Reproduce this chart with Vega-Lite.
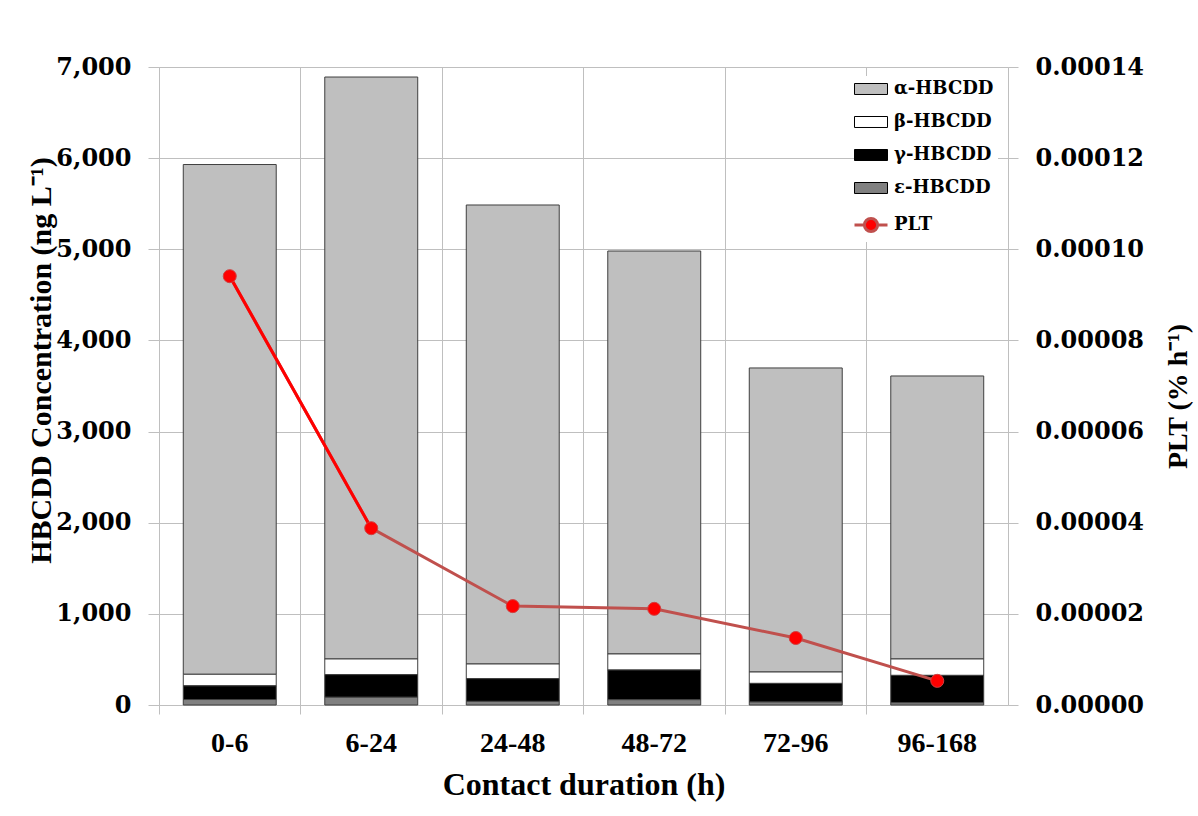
{
  "$schema": "https://vega.github.io/schema/vega-lite/v6.json",
  "width": 849,
  "height": 638,
  "autosize": {"type": "none"},
  "padding": {"left": 159, "top": 67, "right": 190, "bottom": 111},
  "background": "white",
  "config": {
    "view": {"stroke": "#BFBFBF", "strokeWidth": 1},
    "axis": {
      "labelFont": "DejaVu Serif",
      "labelFontWeight": "bold",
      "labelFontSize": 24,
      "labelColor": "#000000",
      "titleFont": "Liberation Serif",
      "titleFontWeight": "bold",
      "titleColor": "#000000",
      "gridColor": "#BFBFBF",
      "gridWidth": 1,
      "tickColor": "#BFBFBF",
      "tickWidth": 1,
      "domain": false
    },
    "legend": {
      "labelFont": "DejaVu Serif",
      "labelFontWeight": "bold",
      "labelFontSize": 18,
      "labelColor": "#000000"
    }
  },
  "layer": [
    {
      "data": {
        "values": [
          {"duration": "0-6", "series": "α-HBCDD", "conc": 5593},
          {"duration": "0-6", "series": "β-HBCDD", "conc": 127},
          {"duration": "0-6", "series": "γ-HBCDD", "conc": 150},
          {"duration": "0-6", "series": "ε-HBCDD", "conc": 60},
          {"duration": "6-24", "series": "α-HBCDD", "conc": 6385},
          {"duration": "6-24", "series": "β-HBCDD", "conc": 172},
          {"duration": "6-24", "series": "γ-HBCDD", "conc": 248},
          {"duration": "6-24", "series": "ε-HBCDD", "conc": 85},
          {"duration": "24-48", "series": "α-HBCDD", "conc": 5036},
          {"duration": "24-48", "series": "β-HBCDD", "conc": 161},
          {"duration": "24-48", "series": "γ-HBCDD", "conc": 249},
          {"duration": "24-48", "series": "ε-HBCDD", "conc": 40},
          {"duration": "48-72", "series": "α-HBCDD", "conc": 4421},
          {"duration": "48-72", "series": "β-HBCDD", "conc": 176},
          {"duration": "48-72", "series": "γ-HBCDD", "conc": 326},
          {"duration": "48-72", "series": "ε-HBCDD", "conc": 58},
          {"duration": "72-96", "series": "α-HBCDD", "conc": 3336},
          {"duration": "72-96", "series": "β-HBCDD", "conc": 125},
          {"duration": "72-96", "series": "γ-HBCDD", "conc": 204},
          {"duration": "72-96", "series": "ε-HBCDD", "conc": 33},
          {"duration": "96-168", "series": "α-HBCDD", "conc": 3105},
          {"duration": "96-168", "series": "β-HBCDD", "conc": 180},
          {"duration": "96-168", "series": "γ-HBCDD", "conc": 300},
          {"duration": "96-168", "series": "ε-HBCDD", "conc": 25}
        ]
      },
      "mark": {"type": "bar", "stroke": "#3F3F3F", "strokeWidth": 1},
      "encoding": {
        "x": {
          "field": "duration",
          "type": "nominal",
          "sort": ["0-6", "6-24", "24-48", "48-72", "72-96", "96-168"],
          "scale": {"paddingInner": 0.343, "paddingOuter": 0.1715},
          "axis": {
            "title": "Contact duration (h)",
            "titleFontSize": 32,
            "titlePadding": 12,
            "labelFont": "Liberation Serif",
            "labelFontSize": 28,
            "labelAngle": 0,
            "labelPadding": 15,
            "bandPosition": -0.261,
            "tickSize": 9,
            "grid": true
          }
        },
        "y": {
          "field": "conc",
          "type": "quantitative",
          "stack": "zero",
          "scale": {"domain": [0, 7000], "nice": false},
          "axis": {
            "orient": "left",
            "title": "HBCDD Concentration (ng L⁻¹)",
            "titleFontSize": 30,
            "titleX": -118,
            "titleY": 293,
            "titleBaseline": "middle",
            "titleAlign": "center",
            "titleAngle": -90,
            "values": [0, 1000, 2000, 3000, 4000, 5000, 6000, 7000],
            "format": ",.0f",
            "tickSize": 11,
            "labelPadding": 17,
            "grid": true
          }
        },
        "color": {
          "field": "series",
          "type": "nominal",
          "scale": {
            "domain": ["α-HBCDD", "β-HBCDD", "γ-HBCDD", "ε-HBCDD", "PLT"],
            "range": ["#BFBFBF", "#FFFFFF", "#000000", "#808080", "#FF0000"]
          },
          "legend": {
            "title": null,
            "orient": "none",
            "legendX": 699,
            "legendY": 9,
            "fillColor": "#FFFFFF",
            "padding": 4,
            "symbolSize": 1089,
            "symbolType": "M-1,-0.333H1V0.333H-1Z",
            "symbolStrokeColor": "#000000",
            "symbolStrokeWidth": 1,
            "rowPadding": 15,
            "labelOffset": 14,
            "encode": {
              "symbols": {
                "update": {
                  "shape": {"signal": "datum.value === 'PLT' ? 'M-1,0H-0.4M0.4,0H1M0.4,0A0.4,0.4 0 1,1 -0.4,0A0.4,0.4 0 1,1 0.4,0Z' : 'M-1,-0.333H1V0.333H-1Z'"},
                  "stroke": {"signal": "datum.value === 'PLT' ? '#C0504D' : '#000000'"},
                  "strokeWidth": {"signal": "datum.value === 'PLT' ? 3 : 1"}
                }
              }
            }
          }
        },
        "order": {"field": "series", "sort": "descending"}
      }
    },
    {
      "data": {
        "values": [
          {"duration": "0-6", "series": "PLT", "plt": 0.0000941},
          {"duration": "6-24", "series": "PLT", "plt": 0.0000388},
          {"duration": "24-48", "series": "PLT", "plt": 0.0000217},
          {"duration": "48-72", "series": "PLT", "plt": 0.0000211},
          {"duration": "72-96", "series": "PLT", "plt": 0.0000147},
          {"duration": "96-168", "series": "PLT", "plt": 0.0000053}
        ]
      },
      "encoding": {
        "x": {
          "field": "duration",
          "type": "nominal",
          "sort": ["0-6", "6-24", "24-48", "48-72", "72-96", "96-168"]
        },
        "y": {
          "field": "plt",
          "type": "quantitative",
          "scale": {"domain": [0, 0.00014], "nice": false},
          "axis": {
            "orient": "right",
            "title": "PLT (% h⁻¹)",
            "titleFontSize": 28,
            "titleAngle": -90,
            "titleX": 170,
            "titleY": 329,
            "titleBaseline": "middle",
            "titleAlign": "center",
            "values": [0, 0.00002, 0.00004, 0.00006, 0.00008, 0.0001, 0.00012, 0.00014],
            "format": ".5f",
            "tickSize": 10,
            "labelPadding": 17,
            "grid": false
          }
        }
      },
      "layer": [
        {"mark": {"type": "line", "color": "#C0504D", "strokeWidth": 3}},
        {
          "transform": [{"filter": "datum.duration === '0-6' || datum.duration === '6-24'"}],
          "mark": {"type": "line", "color": "#FF0000", "strokeWidth": 3}
        },
        {
          "mark": {"type": "point", "filled": true, "size": 170, "opacity": 1, "stroke": "#D04040", "strokeWidth": 1},
          "encoding": {
            "color": {
              "field": "series",
              "type": "nominal",
              "legend": {
                "title": null,
                "orient": "none",
                "legendX": 699,
                "legendY": 9,
                "fillColor": "#FFFFFF",
                "padding": 4,
                "symbolSize": 1089,
                "symbolType": "M-1,-0.333H1V0.333H-1Z",
                "symbolStrokeColor": "#000000",
                "symbolStrokeWidth": 1,
                "rowPadding": 15,
                "labelOffset": 14,
                "encode": {
                  "symbols": {
                    "update": {
                      "shape": {"signal": "datum.value === 'PLT' ? 'M-1,0H-0.4M0.4,0H1M0.4,0A0.4,0.4 0 1,1 -0.4,0A0.4,0.4 0 1,1 0.4,0Z' : 'M-1,-0.333H1V0.333H-1Z'"},
                      "stroke": {"signal": "datum.value === 'PLT' ? '#C0504D' : '#000000'"},
                      "strokeWidth": {"signal": "datum.value === 'PLT' ? 3 : 1"}
                    }
                  }
                }
              }
            }
          }
        }
      ]
    }
  ],
  "resolve": {"scale": {"y": "independent"}}
}
